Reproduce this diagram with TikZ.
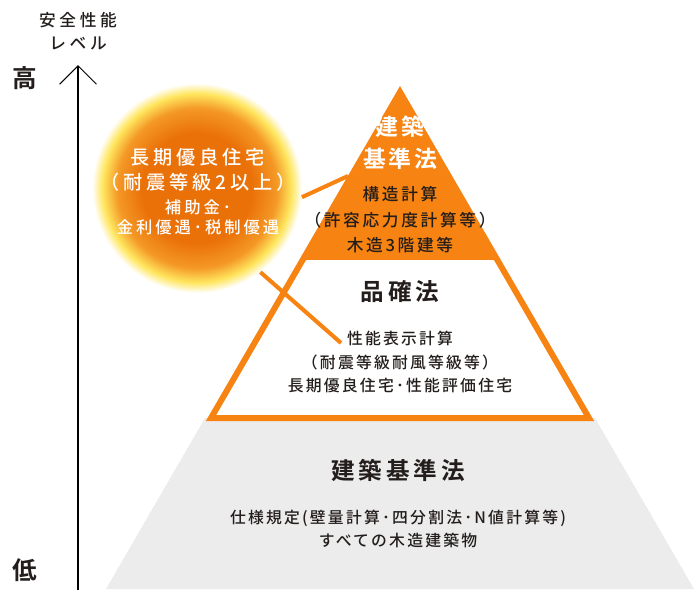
\documentclass[tikz,border=0pt]{standalone}
\usepackage{fontspec}
\setmainfont{Noto Sans CJK JP}[UprightFont=* Medium, BoldFont=* Bold]
\usepackage{xcolor}
\usepackage{tikz}
\usetikzlibrary{arrows.meta, positioning, calc}

\definecolor{pyrOrange}{RGB}{246,131,18}
\definecolor{baseGray}{RGB}{236,236,236}
\definecolor{inkDark}{RGB}{35,30,28}
\definecolor{sunCore}{RGB}{234,112,8}
\definecolor{sunMid}{RGB}{244,152,38}
\definecolor{sunRim}{RGB}{255,230,95}
\pgfdeclareradialshading{sunglow}{\pgfpoint{0bp}{0bp}}{%
  color(0bp)=(sunCore); color(13bp)=(sunCore); color(19bp)=(sunMid);
  color(22.5bp)=(sunRim); color(25bp)=(white); color(50bp)=(white)}

\tikzset{
  axislbl/.style={font=\fontsize{9.5}{13}\selectfont\addfontfeatures{LetterSpace=22}, text=inkDark, align=center, inner sep=0pt},
  extreme/.style={font=\fontsize{14}{16}\selectfont\bfseries, text=inkDark, inner sep=0pt},
  suntitle/.style={font=\fontsize{10.9}{14.2}\selectfont\addfontfeatures{LetterSpace=20}, text=white, align=center, inner sep=0pt},
  sunnote/.style={font=\fontsize{9.3}{11.3}\selectfont\addfontfeatures{LetterSpace=18}, text=white, align=center, inner sep=0pt},
  toptitle/.style={font=\fontsize{13}{18.1}\selectfont\bfseries\addfontfeatures{LetterSpace=12}, text=white, align=center, inner sep=0pt},
  tiertitle/.style={font=\fontsize{13.4}{16}\selectfont\bfseries\addfontfeatures{LetterSpace=17}, text=inkDark, inner sep=0pt},
  tierbody/.style={font=\fontsize{9}{#1}\selectfont\addfontfeatures{LetterSpace=14}, text=inkDark, align=center, inner sep=0pt},
  tierbody/.default=13.6,
  link/.style={pyrOrange, line width=2.3pt}
}

\begin{document}
\begin{tikzpicture}[x=0.02cm, y=-0.02cm]
  \useasboundingbox (0,0) rectangle (700,600);
  \coordinate (apex) at (400,92);
  \coordinate (baseL) at (211,418);
  \coordinate (baseR) at (589,418);
  \fill[baseGray] (205,418) -- (595,418) -- (694,589) -- (106,589) -- cycle;
  \fill[pyrOrange] (apex) -- ($(apex)!0.515!(baseL)$) -- ($(apex)!0.515!(baseR)$) -- cycle;
  \draw[pyrOrange, line width=3.4pt, line join=miter] (apex) -- (baseL) -- (baseR) -- cycle;

  \coordinate (axLow) at (78,590);
  \coordinate (axHigh) at (78,65);
  \draw[line width=0.6pt, -{Straight Barb[length=10.5pt, width=21pt]}] (axLow) -- (axHigh);
  \node[axislbl] (axName) at (78,31) {安全性能\\レベル};
  \node[extreme] (axHi) at (25,78) {高};
  \node[extreme] (axLo) at (25,570) {低};

  \node[circle, inner sep=0pt, minimum size=4.2cm, shade, shading=sunglow] (sun) at (197,188) {};
  \node[suntitle] (sunHead) at (198,170) {長期優良住宅\\（耐震等級2以上）};
  \node[sunnote] (sunNote) at (198,217) {補助金･\\金利優遇･税制優遇};
  \coordinate (bkEdge) at (348,176);
  \coordinate (hkEnd) at (341,343);
  \draw[link] (sun.-5) -- (bkEdge);
  \draw[link] (sun.-53) -- (hkEnd);

  \node[toptitle] (bkTitle) at (400,143) {建築\\基準法};
  \node[tierbody=14.5, font=\fontsize{9.5}{14.5}\selectfont\addfontfeatures{LetterSpace=16}] (bkBody) at (400,220) {構造計算\\（許容応力度計算等）\\木造3階建等};
  \node[tiertitle] (hkTitle) at (400,292) {品確法};
  \node[tierbody] (hkBody) at (400,362) {性能表示計算\\（耐震等級耐風等級等）\\長期優良住宅･性能評価住宅};
  \node[tiertitle] (kbTitle) at (398,470) {建築基準法};
  \node[tierbody=13] (kbBody) at (398,529) {仕様規定(壁量計算･四分割法･N値計算等)\\すべての木造建築物};
\end{tikzpicture}
\end{document}
